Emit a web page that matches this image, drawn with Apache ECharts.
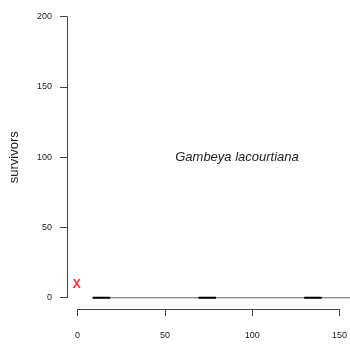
<!DOCTYPE html>
<html>
<head>
<meta charset="utf-8">
<script src="https://cdn.jsdelivr.net/npm/echarts@6/dist/echarts.min.js"></script>
<style>
html,body{margin:0;padding:0;background:#fff;}
#chart{width:350px;height:347px;}
</style>
</head>
<body>
<div id="chart"></div>
<script>
// Data
const xTicks = [0, 50, 100, 150];
const yTicks = [0, 50, 100, 150, 200];
const segStart = [10, 70, 130];
const segEnd = [20, 80, 140];
const segValue = [0, 0, 0];
const baseLineX = [10, 160];
const baseLineY = [0, 0];
const markX = [1];
const markY = [9];
const speciesLabel = 'Gambeya lacourtiana';
const yName = 'survivors';

// plot region extends 4% beyond the tick range (R style)
const xMin = xTicks[0], xMax = xTicks[xTicks.length - 1];
const yMin = yTicks[0], yMax = yTicks[yTicks.length - 1];
const xPad = (xMax - xMin) * 0.04, yPad = (yMax - yMin) * 0.04;

const segData = [];
segStart.forEach((s, i) => {
  segData.push([s, segValue[i]]);
  segData.push([segEnd[i], segValue[i]]);
  if (i < segStart.length - 1) segData.push('-');
});

const chart = echarts.init(document.getElementById('chart'), null, {renderer: 'canvas'});
const axisCol = '#444';
const textCol = '#222';
const ff = 'Liberation Sans, Arial, sans-serif';
chart.setOption({
  animation: false,
  backgroundColor: '#fff',
  grid: [
    {left: 75, width: 266, top: 16.7, height: 281, containLabel: false},
    {left: 64.4, width: 287.2, top: 5.5, height: 303.5, containLabel: false}
  ],
  xAxis: [{
    gridIndex: 0, type: 'value', min: xMin, max: xMax, interval: 50,
    offset: 11.3,
    axisLine: {show: true, onZero: false, lineStyle: {color: axisCol, width: 1}},
    axisTick: {show: true, length: 7, lineStyle: {color: axisCol}},
    axisLabel: {margin: 22, fontSize: 9, color: textCol, fontFamily: ff},
    splitLine: {show: false}
  }, {
    gridIndex: 1, type: 'value', min: xMin - xPad, max: xMax + xPad, show: false
  }],
  yAxis: [{
    gridIndex: 0, type: 'value', min: yMin, max: yMax, interval: 50,
    offset: 10.6,
    name: yName, nameLocation: 'middle', nameGap: 46, nameRotate: 90,
    nameTextStyle: {fontSize: 13, color: textCol, fontFamily: ff},
    axisLine: {show: true, onZero: false, lineStyle: {color: axisCol, width: 1}},
    axisTick: {show: true, length: 7, lineStyle: {color: axisCol}},
    axisLabel: {margin: 15, fontSize: 9, color: textCol, fontFamily: ff},
    splitLine: {show: false}
  }, {
    gridIndex: 1, type: 'value', min: yMin - yPad, max: yMax + yPad, show: false
  }],
  graphic: [{
    type: 'text', x: 237, y: 157,
    style: {text: speciesLabel, align: 'center', verticalAlign: 'middle',
      font: 'italic 13px "Liberation Sans", Arial, sans-serif', fill: textCol}
  }],
  series: [
    {
      type: 'line', xAxisIndex: 1, yAxisIndex: 1, symbol: 'none',
      data: baseLineX.map((x, i) => [x, baseLineY[i]]),
      lineStyle: {color: '#666', width: 1}
    },
    {
      type: 'line', xAxisIndex: 1, yAxisIndex: 1, symbol: 'none', connectNulls: false,
      data: segData,
      lineStyle: {color: '#000', width: 2}
    },
    {
      type: 'scatter', xAxisIndex: 1, yAxisIndex: 1, symbolSize: 0,
      data: markX.map((x, i) => [x, markY[i]]),
      label: {show: true, position: 'inside', formatter: 'X', color: '#ff0000',
        fontSize: 12, fontWeight: 'bold', fontFamily: ff}
    }
  ]
});
</script>
</body>
</html>
